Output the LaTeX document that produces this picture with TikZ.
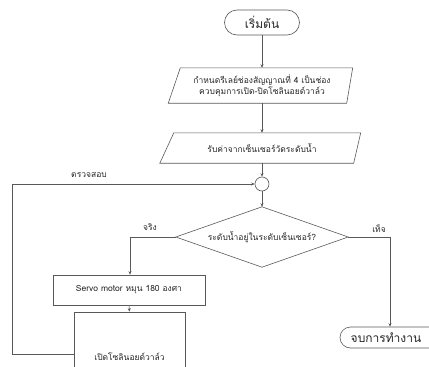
\documentclass[tikz,border=0pt]{standalone}
\usepackage{fontspec}
\setmainfont[Script=Thai]{Loma}
\usetikzlibrary{arrows.meta,calc}
\begin{document}
\begin{tikzpicture}[x=1pt,y=-1pt,
  line/.style={draw=black!65, line width=0.6pt},
  arr/.style={line, -{Stealth[length=3.5pt,width=3pt]}},
  txt/.style={font=\fontsize{8.5}{11}\selectfont, align=center, text=black!85},
  big/.style={font=\fontsize{12}{14}\selectfont, text=black!85},
  box/.style={line, fill=white}
]
\useasboundingbox (0,0) rectangle (429,367);
\clip (0,0) rectangle (429,367);
% start
\node[box, big, rounded corners=12.5pt, minimum width=75pt, minimum height=25pt, inner sep=0pt] (start) at (262,22.5) {เริ่มต้น};
% parallelogram 1
\node[txt, minimum width=175pt, minimum height=35pt, inner sep=0pt] (p1) at (262,85.5) {กำหนดรีเลย์ช่องสัญญาณที่ 4 เป็นช่อง\\ควบคุมการเปิด-ปิดโซลินอยด์วาล์ว};
\draw[line] ($(p1.north west)+(6,0)$) -- ($(p1.north east)+(3,0)$) -- ($(p1.south east)+(-3,0)$) -- ($(p1.south west)+(-6,0)$) -- cycle;
% parallelogram 2
\node[txt, minimum width=190pt, minimum height=30pt, inner sep=0pt] (p2) at (262,148) {รับค่าจากเซ็นเซอร์วัดระดับน้ำ};
\draw[line] ($(p2.north west)+(7,0)$) -- ($(p2.north east)+(3.5,0)$) -- ($(p2.south east)+(-3.5,0)$) -- ($(p2.south west)+(-7,0)$) -- cycle;
% connector circle
\node[box, circle, minimum size=14pt, inner sep=0pt] (c) at (262,184) {};
% diamond
\node[inner sep=0pt, minimum width=172pt, minimum height=60pt] (d) at (262,237) {};
\draw[line] (d.north) -- (d.east) -- (d.south) -- (d.west) -- cycle;
\node[txt] (dt) at (262,237) {ระดับน้ำอยู่ในระดับเซ็นเซอร์?};
% servo box
\node[box, txt, minimum width=152pt, minimum height=30pt, inner sep=0pt] (s) at (129,290) {Servo motor หมุน 180 องศา};
% valve box
\node[box, minimum width=111pt, minimum height=68pt, inner sep=0pt] (v) at (129.5,346) {};
\node[txt] (vt) at (129.5,357) {เปิดโซลินอยด์วาล์ว};
% end
\node[box, big, rounded corners=10.5pt, minimum width=100pt, minimum height=21pt, inner sep=0pt] (e) at (390,337.5) {\hspace*{-8pt}จบการทำงาน};
% coordinates
\coordinate (lt) at (130,237);
\coordinate (rt) at (390,237);
\coordinate (vl) at (12,354);
\coordinate (cl) at (12,184);
% connectors
\draw[arr] (start.south) -- (p1.north);
\draw[arr] (p1.south) -- (p2.north);
\draw[arr] (p2.south) -- (c.north);
\draw[arr] (c.south) -- (d.north);
\draw[arr] (d.west) -- (lt) -- (s.north -| lt);
\draw[arr] (s.south) -- (v.north);
\draw[arr] (v.west |- vl) -- (vl) -- (cl) -- (c.west);
\draw[arr] (d.east) -- (rt) -- (e.north);
% labels
\node[txt] (l1) at (89,175) {ตรวจสอบ};
\node[txt] (l2) at (150,227) {จริง};
\node[txt] (l3) at (379,229) {เท็จ};
\end{tikzpicture}
\end{document}
